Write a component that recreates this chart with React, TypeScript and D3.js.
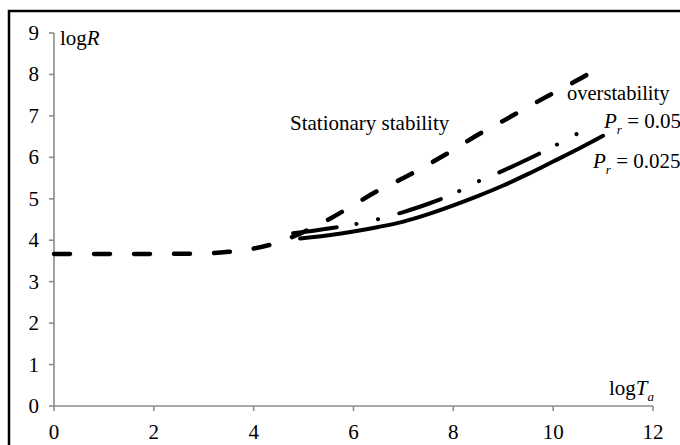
import React from "react";
import * as d3 from "d3";

const xTicks = [0, 2, 4, 6, 8, 10, 12];
const yTicks = [0, 1, 2, 3, 4, 5, 6, 7, 8, 9];

const stationaryX = [0, 1, 2, 3, 3.5, 4, 4.5, 5, 5.5, 6, 6.5, 7, 7.5, 8, 8.5, 9, 9.5, 10, 10.5, 10.8];
const stationaryY = [3.67, 3.67, 3.67, 3.68, 3.72, 3.8, 3.95, 4.2, 4.5, 4.85, 5.2, 5.5, 5.83, 6.18, 6.55, 6.88, 7.22, 7.55, 7.87, 8.08];

const pr05X = [4.79, 5.2, 5.6, 6, 6.5, 7, 7.5, 8, 8.5, 9, 9.5, 10, 10.5, 10.8];
const pr05Y = [4.17, 4.23, 4.3, 4.38, 4.51, 4.68, 4.88, 5.12, 5.42, 5.68, 5.96, 6.26, 6.58, 6.75];

const pr025X = [4.93, 5.5, 6, 6.5, 7, 7.5, 8, 8.5, 9, 9.5, 10, 10.5, 11];
const pr025Y = [4.04, 4.12, 4.21, 4.32, 4.45, 4.63, 4.84, 5.07, 5.32, 5.6, 5.9, 6.2, 6.52];

const W = 680;
const H = 445;

export default function App() {
  const x = d3.scaleLinear().domain([0, 12]).range([54, 653]);
  const y = d3.scaleLinear().domain([0, 9]).range([406, 33]);
  const line = d3
    .line<[number, number]>()
    .x((d) => x(d[0]))
    .y((d) => y(d[1]))
    .curve(d3.curveMonotoneX);
  const zip = (a: number[], b: number[]) => a.map((v, i) => [v, b[i]] as [number, number]);
  const axisColor = "#8c8c8c";
  const font = "'Liberation Serif', 'Times New Roman', serif";
  const fs = 21;

  return (
    <svg
      width={W}
      height={H}
      style={{ position: "absolute", left: 0, top: 0, background: "#fff" }}
      fontFamily={font}
    >
      <rect x={0} y={0} width={W} height={H} fill="#fff" />
      <rect x={9} y={11} width={W + 20} height={H + 20} fill="none" stroke="#000" strokeWidth={2.5} />

      {/* axes */}
      <line x1={x(0)} x2={x(12)} y1={y(0)} y2={y(0)} stroke={axisColor} strokeWidth={1.6} />
      <line x1={x(0)} x2={x(0)} y1={y(0)} y2={y(9)} stroke={axisColor} strokeWidth={1.6} />
      {yTicks.map((t) => (
        <g key={"y" + t}>
          <line x1={x(0) - 5} x2={x(0)} y1={y(t)} y2={y(t)} stroke={axisColor} strokeWidth={1.6} />
          <text x={39} y={y(t) + 7} fontSize={fs} textAnchor="end" fill="#000">
            {t}
          </text>
        </g>
      ))}
      {xTicks.map((t) => (
        <g key={"x" + t}>
          <line x1={x(t)} x2={x(t)} y1={y(0)} y2={y(0) + 5} stroke={axisColor} strokeWidth={1.6} />
          <text x={x(t)} y={439} fontSize={fs} textAnchor="middle" fill="#000">
            {t}
          </text>
        </g>
      ))}

      {/* curves */}
      <path
        d={line(zip(stationaryX, stationaryY)) || ""}
        fill="none"
        stroke="#000"
        strokeWidth={4.5}
        strokeLinecap="round"
        strokeDasharray="16 24"
      />
      <path
        d={line(zip(pr05X, pr05Y)) || ""}
        fill="none"
        stroke="#000"
        strokeWidth={4}
        strokeLinecap="round"
        strokeDasharray="44 20 0.1 22 0.1 22"
      />
      <path
        d={line(zip(pr025X, pr025Y)) || ""}
        fill="none"
        stroke="#000"
        strokeWidth={4}
        strokeLinecap="round"
      />

      {/* labels */}
      <text x={60} y={45} fontSize={fs} fill="#000">
        log<tspan fontStyle="italic">R</tspan>
      </text>
      <text x={609} y={395} fontSize={fs} fill="#000">
        log<tspan fontStyle="italic">T</tspan>
        <tspan fontStyle="italic" fontSize={13} dy={6}>a</tspan>
      </text>
      <text x={290} y={130} fontSize={fs} fill="#000">
        Stationary stability
      </text>
      <text x={567} y={100} fontSize={20.5} fill="#000">
        overstability
      </text>
      <text x={604} y={128} fontSize={fs} fill="#000">
        <tspan fontStyle="italic">P</tspan>
        <tspan fontStyle="italic" fontSize={13} dy={6}>r</tspan>
        <tspan dy={-6}> = 0.05</tspan>
      </text>
      <text x={593} y={168} fontSize={fs} fill="#000">
        <tspan fontStyle="italic">P</tspan>
        <tspan fontStyle="italic" fontSize={13} dy={6}>r</tspan>
        <tspan dy={-6}> = 0.025</tspan>
      </text>
    </svg>
  );
}
